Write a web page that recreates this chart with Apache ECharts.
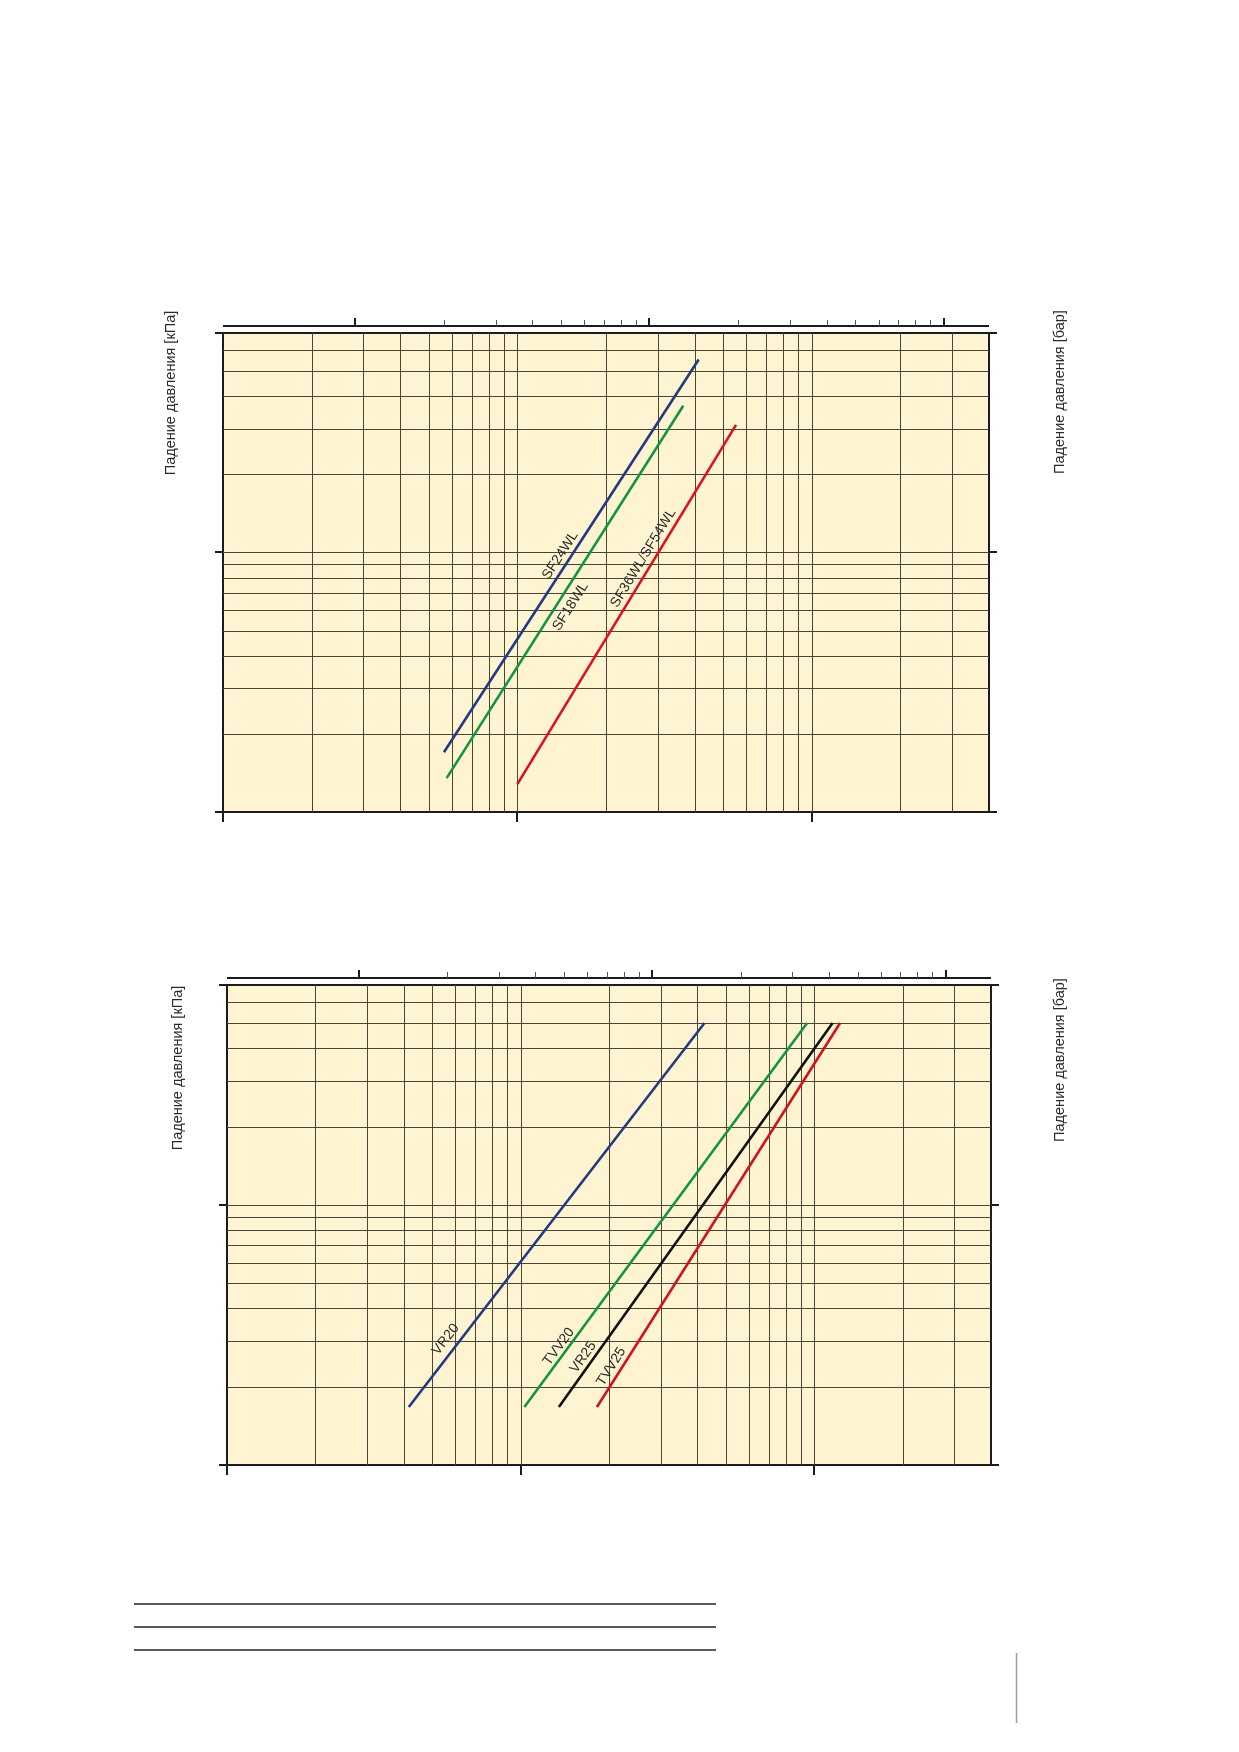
<!DOCTYPE html>
<html>
<head>
<meta charset="utf-8">
<script src="https://cdn.jsdelivr.net/npm/echarts@6/dist/echarts.min.js"></script>
<style>
html,body{margin:0;padding:0;background:#ffffff;}
#c{width:1239px;height:1752px;}
</style>
</head>
<body>
<div id="c"></div>
<script>
// ---------- scales (log) ----------
const hMin = 1, hMax = 400;          // horizontal log axis range
const vMin = 1, vMax = 70;           // vertical log axis range
const topMin = 0.356, topMax = 142.4; // secondary (top) log scale, same span

// ---------- grid / tick values ----------
const hGridValues = [2, 3, 4, 5, 6, 7, 8, 9, 10, 20, 30, 40, 50, 60, 70, 80, 90, 100, 200, 300];
const vGridValues = [2, 3, 4, 5, 6, 7, 8, 9, 10, 20, 30, 40, 50, 60];
const hMajorTicks = [1, 10, 100];
const vMajorTicks = [1, 10, 70];
const topMajorTicks = [1, 10, 100];
const topMinorTicks = [2, 3, 4, 5, 6, 7, 8, 9, 20, 30, 40, 50, 60, 70, 80, 90];

// ---------- chart 1 series ----------
const sf24wl = [[5.63, 1.70], [41.3, 55.3]];
const sf18wl = [[5.75, 1.35], [36.6, 36.7]];
const sf36wl = [[10.0, 1.28], [55.3, 31.0]];

// ---------- chart 2 series ----------
const vr20  = [[4.16, 1.67], [42.3, 50]];
const tvv20 = [[10.3, 1.67], [94.6, 50]];
const vr25  = [[13.5, 1.67], [115.5, 50]];
const tvv25 = [[18.2, 1.67], [122.5, 50]];

const titleLeft = 'Падение давления [кПа]';
const titleRight = 'Падение давления [бар]';

// ---------- layout & style ----------
const FONT = '"Liberation Sans", Arial, sans-serif';
const BG = '#fef4d1';
const GRIDC = '#4a4536';
const FRAME = '#1c1c1c';
const TEXTC = '#2a2a2a';

const panels = [
  {
    plot: {left: 223, top: 333, width: 766, height: 479},
    topAxisY: 326,
    lines: [
      {name: 'SF24WL', data: sf24wl, color: '#25397f', t: 0.488, off: 9.5},
      {name: 'SF18WL', data: sf18wl, color: '#139440', t: 0.479, off: -12.5},
      {name: 'SF36WL/SF54WL', data: sf36wl, color: '#d9141f', t: 0.615, off: 10}
    ],
    titles: [{text: titleLeft, x: 171, y: 393}, {text: titleRight, x: 1060, y: 392}]
  },
  {
    plot: {left: 227, top: 985, width: 764, height: 480},
    topAxisY: 978,
    lines: [
      {name: 'VR20', data: vr20, color: '#25397f', t: 0.157, off: 12},
      {name: 'TVV20', data: tvv20, color: '#139440', t: 0.145, off: 8},
      {name: 'VR25', data: vr25, color: '#111111', t: 0.116, off: 9},
      {name: 'TVV25', data: tvv25, color: '#d0141f', t: 0.092, off: 9.5}
    ],
    titles: [{text: titleLeft, x: 178, y: 1068}, {text: titleRight, x: 1060, y: 1060}]
  }
];

const grids = [], xAxes = [], yAxes = [], series = [], graphics = [];

function hiddenAxis(extra) {
  return Object.assign({
    axisLine: {show: false}, axisTick: {show: false},
    axisLabel: {show: false}, splitLine: {show: false}, minorTick: {show: false}
  }, extra);
}
const r = v => Math.round(v) + 0.5;

panels.forEach((p, i) => {
  const gi = grids.length;
  grids.push(Object.assign({show: true, backgroundColor: BG, borderColor: FRAME, borderWidth: 2, containLabel: false}, p.plot));
  xAxes.push(hiddenAxis({type: 'log', logBase: 10, gridIndex: gi, min: hMin, max: hMax}));
  yAxes.push(hiddenAxis({type: 'log', logBase: 10, gridIndex: gi, min: vMin, max: vMax}));
  const ax = xAxes.length - 1, ay = yAxes.length - 1;

  // top strip grid
  const ti = grids.length;
  grids.push({left: p.plot.left, width: p.plot.width, top: p.topAxisY - 12, height: 12});
  xAxes.push(hiddenAxis({type: 'log', logBase: 10, gridIndex: ti, min: topMin, max: topMax}));
  yAxes.push(hiddenAxis({type: 'value', gridIndex: ti, min: 0, max: 1}));
  const tx = xAxes.length - 1, ty = yAxes.length - 1;

  // vertical grid lines
  series.push({
    type: 'custom', xAxisIndex: ax, yAxisIndex: ay, silent: true, clip: false, z: 1,
    data: hGridValues.map(v => [v, vMin]),
    renderItem: (params, api) => {
      const v = api.value(0);
      const a = api.coord([v, vMin]), b = api.coord([v, vMax]);
      const x = r(a[0]);
      return {type: 'line', shape: {x1: x, y1: a[1], x2: x, y2: b[1]}, style: {stroke: GRIDC, lineWidth: 1}};
    }
  });
  // horizontal grid lines
  series.push({
    type: 'custom', xAxisIndex: ax, yAxisIndex: ay, silent: true, clip: false, z: 1,
    data: vGridValues.map(v => [hMin, v]),
    renderItem: (params, api) => {
      const v = api.value(1);
      const a = api.coord([hMin, v]), b = api.coord([hMax, v]);
      const y = r(a[1]);
      return {type: 'line', shape: {x1: a[0], y1: y, x2: b[0], y2: y}, style: {stroke: GRIDC, lineWidth: 1}};
    }
  });
  // bottom major ticks
  series.push({
    type: 'custom', xAxisIndex: ax, yAxisIndex: ay, silent: true, clip: false, z: 3,
    data: hMajorTicks.map(v => [v, vMin]),
    renderItem: (params, api) => {
      const a = api.coord([api.value(0), vMin]);
      const x = Math.round(a[0]);
      return {type: 'line', shape: {x1: x, y1: a[1], x2: x, y2: a[1] + 10}, style: {stroke: FRAME, lineWidth: 2}};
    }
  });
  // side ticks (left and right)
  series.push({
    type: 'custom', xAxisIndex: ax, yAxisIndex: ay, silent: true, clip: false, z: 3,
    data: vMajorTicks.map(v => [hMin, v]),
    renderItem: (params, api) => {
      const v = api.value(1);
      const a = api.coord([hMin, v]), b = api.coord([hMax, v]);
      const y = Math.round(a[1]);
      return {type: 'group', children: [
        {type: 'line', shape: {x1: a[0] - 8, y1: y, x2: a[0], y2: y}, style: {stroke: FRAME, lineWidth: 2}},
        {type: 'line', shape: {x1: b[0], y1: y, x2: b[0] + 8, y2: y}, style: {stroke: FRAME, lineWidth: 2}}
      ]};
    }
  });
  // top secondary axis: line + ticks
  series.push({
    type: 'custom', xAxisIndex: tx, yAxisIndex: ty, silent: true, clip: false, z: 3,
    data: [[topMin, 0]],
    renderItem: (params, api) => {
      const a = api.coord([topMin, 0]), b = api.coord([topMax, 0]);
      return {type: 'line', shape: {x1: a[0], y1: a[1], x2: b[0], y2: b[1]}, style: {stroke: FRAME, lineWidth: 2}};
    }
  });
  series.push({
    type: 'custom', xAxisIndex: tx, yAxisIndex: ty, silent: true, clip: false, z: 3,
    data: topMajorTicks.map(v => [v, 0]),
    renderItem: (params, api) => {
      const a = api.coord([api.value(0), 0]);
      const x = Math.round(a[0]);
      return {type: 'line', shape: {x1: x, y1: a[1], x2: x, y2: a[1] - 8}, style: {stroke: FRAME, lineWidth: 2}};
    }
  });
  series.push({
    type: 'custom', xAxisIndex: tx, yAxisIndex: ty, silent: true, clip: false, z: 3,
    data: topMinorTicks.map(v => [v, 0]),
    renderItem: (params, api) => {
      const a = api.coord([api.value(0), 0]);
      const x = r(a[0]);
      return {type: 'line', shape: {x1: x, y1: a[1], x2: x, y2: a[1] - 6}, style: {stroke: '#555', lineWidth: 1}};
    }
  });

  // data lines + their labels
  p.lines.forEach(L => {
    series.push({
      type: 'line', name: L.name, xAxisIndex: ax, yAxisIndex: ay, data: L.data,
      showSymbol: false, symbol: 'none', silent: true, z: 5,
      lineStyle: {color: L.color, width: 2.6, cap: 'butt'}
    });
    series.push({
      type: 'custom', xAxisIndex: ax, yAxisIndex: ay, silent: true, clip: false, z: 6,
      data: [[L.data[0][0], L.data[0][1], L.data[1][0], L.data[1][1]]],
      encode: {x: [0, 2], y: [1, 3]},
      renderItem: (params, api) => {
        const p0 = api.coord([api.value(0), api.value(1)]);
        const p1 = api.coord([api.value(2), api.value(3)]);
        const dx = p1[0] - p0[0], dy = p1[1] - p0[1];
        const len = Math.sqrt(dx * dx + dy * dy);
        const nx = dy / len, ny = -dx / len;
        const cx = p0[0] + L.t * dx + L.off * nx;
        const cy = p0[1] + L.t * dy + L.off * ny;
        return {
          type: 'text', x: cx, y: cy, rotation: Math.atan2(-dy, dx),
          style: {text: L.name, fill: TEXTC, fontSize: 14, fontFamily: FONT, align: 'center', verticalAlign: 'middle'}
        };
      }
    });
  });

  p.titles.forEach(T => {
    graphics.push({
      type: 'text', x: T.x, y: T.y, rotation: Math.PI / 2, silent: true,
      style: {text: T.text, fill: TEXTC, fontSize: 14.5, fontFamily: FONT, align: 'center', verticalAlign: 'middle'}
    });
  });
});

// page decoration at the bottom
[1604, 1627, 1650].forEach(y => {
  graphics.push({type: 'line', silent: true, shape: {x1: 134, y1: y, x2: 716, y2: y}, style: {stroke: '#5a5a5a', lineWidth: 2}});
});
graphics.push({type: 'line', silent: true, shape: {x1: 1016.5, y1: 1653, x2: 1016.5, y2: 1723}, style: {stroke: '#9a9a9a', lineWidth: 1.5}});

const chart = echarts.init(document.getElementById('c'), null, {renderer: 'canvas'});
chart.setOption({
  animation: false,
  backgroundColor: '#ffffff',
  grid: grids,
  xAxis: xAxes,
  yAxis: yAxes,
  series: series,
  graphic: graphics
});
</script>
</body>
</html>
